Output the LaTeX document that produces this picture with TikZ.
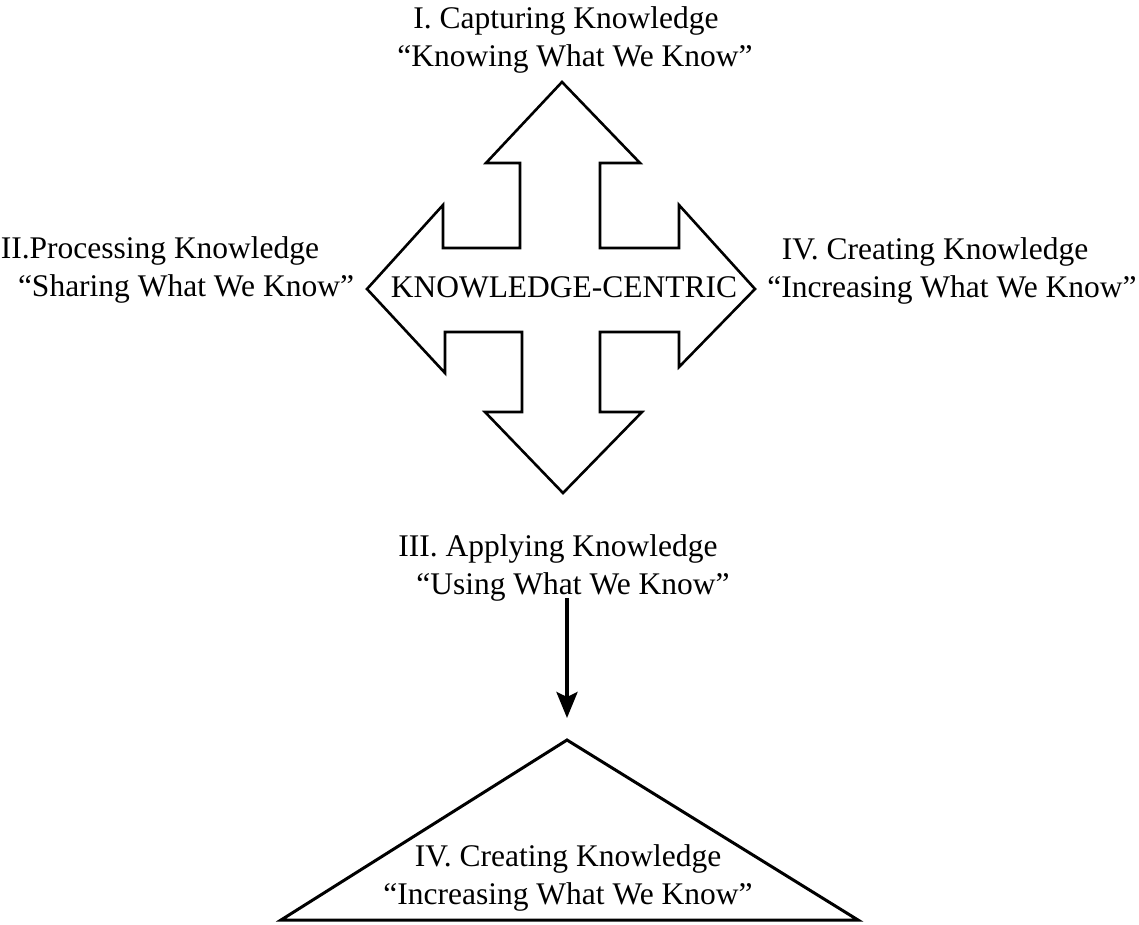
\documentclass[tikz,border=0pt]{standalone}
\usepackage{fontspec}
\setmainfont{Liberation Serif}
\usetikzlibrary{arrows.meta}
\begin{document}
\begin{tikzpicture}[x=1pt,y=-1pt,
  lbl/.style={anchor=base,inner sep=0pt,font=\fontsize{31.5}{37}\selectfont},
  outline/.style={draw=black,line width=2.6pt,line join=miter,fill=white},
  flow/.style={draw=black,line width=4pt,-{Stealth[length=26pt,width=21pt,inset=5pt]}}]
\useasboundingbox (0,0) rectangle (1139,924);

% four-headed arrow in the centre
\draw[outline]
  (562,82) -- (640,163) -- (600,163) -- (600,248) -- (679,248) -- (679,205)
  -- (755,289) -- (679,367) -- (679,332) -- (600,332) -- (600,412) -- (642,412)
  -- (563,493) -- (485,412) -- (522,412) -- (522,332) -- (445,332) -- (445,373)
  -- (367,289) -- (443,205) -- (443,248) -- (520,248) -- (520,163) -- (486,163)
  -- cycle;
\node[lbl] (hub) at (564,297) {KNOWLEDGE-CENTRIC};

% labels around the arrow
\node[lbl] (capA) at (566,28) {I. Capturing Knowledge};
\node[lbl] (capB) at (575,66) {“Knowing What We Know”};
\node[lbl] (proA) at (160,258) {II.Processing Knowledge};
\node[lbl] (proB) at (186,296) {“Sharing What We Know”};
\node[lbl] (creA) at (935,259) {IV. Creating Knowledge};
\node[lbl] (creB) at (952,297) {“Increasing What We Know”};
\node[lbl] (appA) at (558,556) {III. Applying Knowledge};
\node[lbl] (appB) at (573,594) {“Using What We Know”};

% arrow down to the pyramid
\coordinate (arrS) at (567,598);
\coordinate (arrE) at (567,718);
\draw[flow] (arrS) -- (arrE);

% pyramid
\coordinate (apex) at (567,740);
\coordinate (baseL) at (281,920);
\coordinate (baseR) at (858,920);
\draw[outline,line width=3pt] (apex) -- (baseR) -- (baseL) -- cycle;
\node[lbl] (pyrA) at (568,866) {IV. Creating Knowledge};
\node[lbl] (pyrB) at (568,904) {“Increasing What We Know”};
\end{tikzpicture}
\end{document}
